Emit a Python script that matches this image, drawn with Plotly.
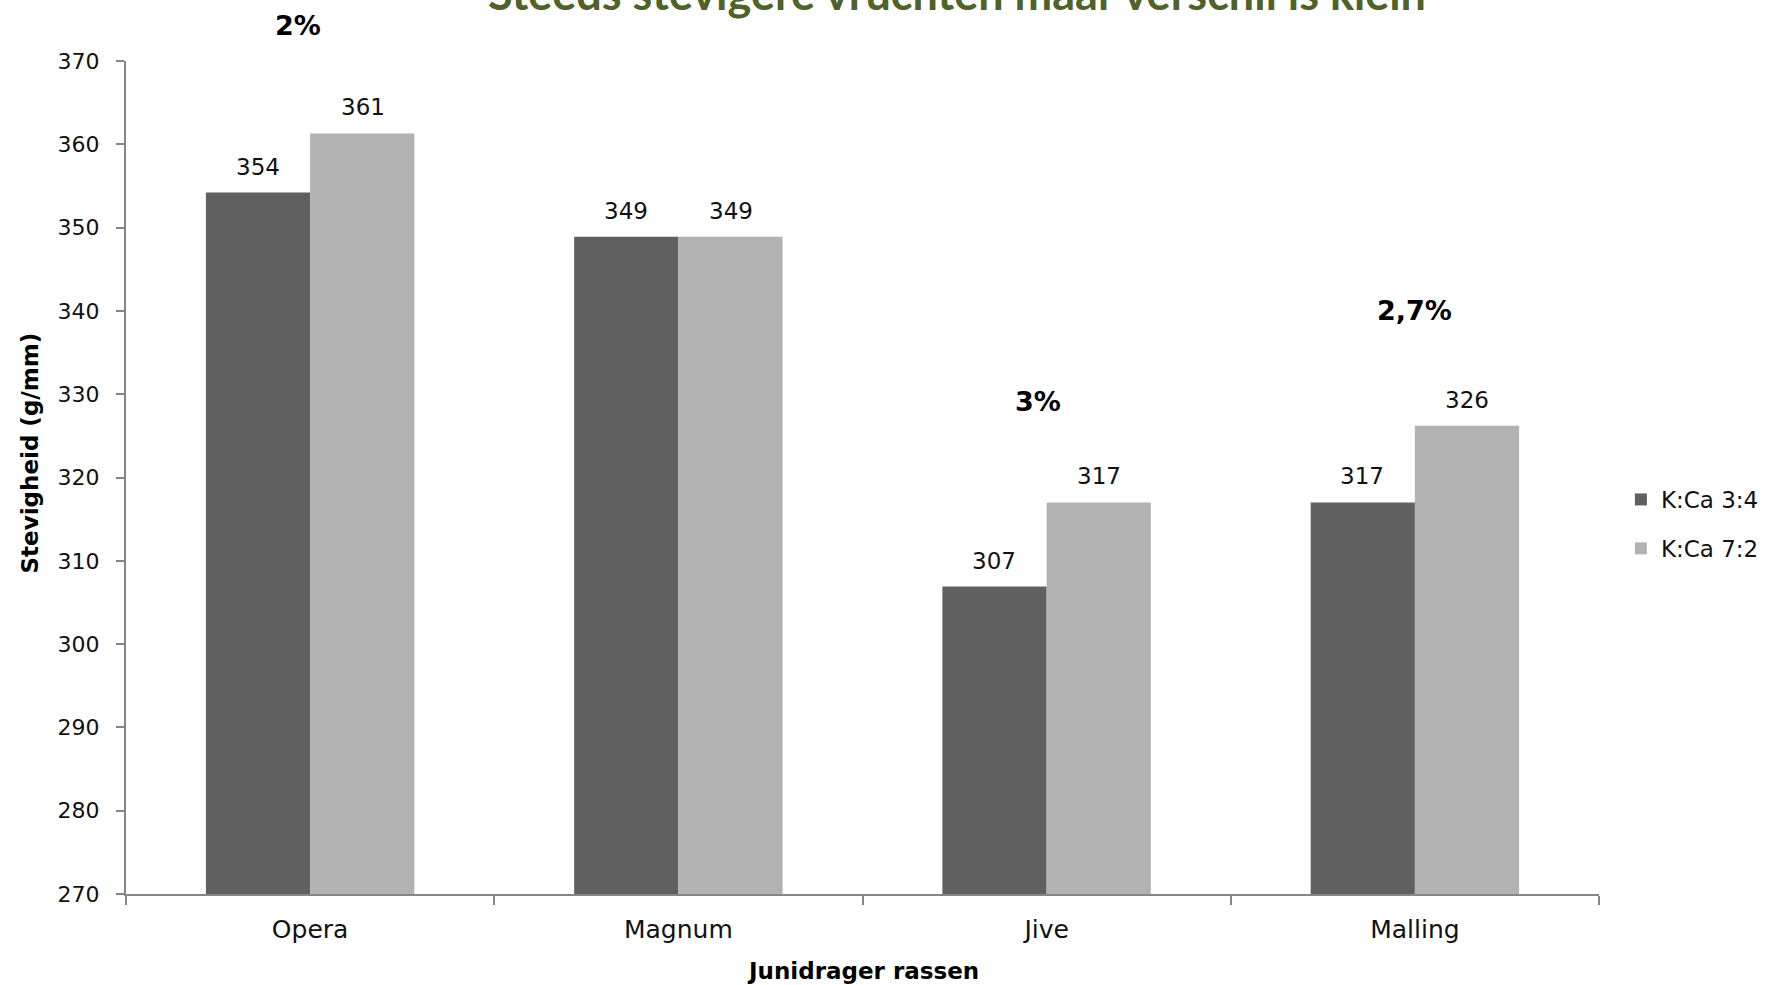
import plotly.graph_objects as go

categories = ["Opera", "Magnum", "Jive", "Malling"]
series_names = ["K:Ca 3:4", "K:Ca 7:2"]
kca_34 = [354.2, 348.9, 306.9, 317.0]
kca_72 = [361.3, 348.9, 317.0, 326.2]
pct_labels = ["2%", "", "3%", "2,7%"]
pct_label_y = [374.3, None, 329.1, 340.1]
y_ticks = [270, 280, 290, 300, 310, 320, 330, 340, 350, 360, 370]
Y_MIN, Y_MAX = 270, 370

title_text = "Steeds stevigere vruchten maar verschil is klein"
x_title = "Junidrager rassen"
y_title = "Stevigheid (g/mm)"

colors = ["#606060", "#B2B2B2"]
FONT = "DejaVu Sans"

W, H = 1776, 985
ML, MR, MT, MB = 126, 170, 61, 91
PW = W - ML - MR
PH = H - MT - MB

def px_x(p):
    return (p - ML) / PW

def px_y(p):
    return (H - MB - p) / PH

fig = go.Figure()
all_series = [kca_34, kca_72]
for name, vals, col in zip(series_names, all_series, colors):
    fig.add_trace(go.Bar(
        x=categories, y=vals, name=name, marker=dict(color=col, line=dict(width=0)),
        legendgroup=name, hoverinfo="x+y",
    ))

annotations = []
# value labels above each bar
bar_px = 105
for j, vals in enumerate(all_series):
    for i, v in enumerate(vals):
        annotations.append(dict(
            x=categories[i], y=v, xref="x", yref="y", text=f"{v:.0f}",
            showarrow=False, yanchor="bottom", xanchor="center",
            xshift=(j - 0.5) * bar_px, yshift=11,
            font=dict(family=FONT, size=23, color="#111111"),
        ))

pct_xshift = [-12, 0, -9, 0]
for i, lab in enumerate(pct_labels):
    if not lab:
        continue
    annotations.append(dict(
        x=categories[i], y=(pct_label_y[i] - Y_MIN) / (Y_MAX - Y_MIN),
        xref="x", yref="paper", text=f"<b>{lab}</b>",
        showarrow=False, yanchor="middle", xanchor="center", xshift=pct_xshift[i],
        font=dict(family=FONT, size=27, color="#000000"),
    ))

# chart title (partially cut at the top, as in the reference)
annotations.append(dict(
    x=px_x(961), y=px_y(22), xref="paper", yref="paper", text=f"<b>{title_text}</b>",
    showarrow=False, yanchor="bottom", xanchor="center",
    font=dict(family="Lato", size=45, color="#4F6228"),
))
# axis titles
annotations.append(dict(
    x=0.5, y=px_y(971), xref="paper", yref="paper", text=f"<b>{x_title}</b>",
    showarrow=False, yanchor="middle", xanchor="center",
    font=dict(family=FONT, size=23, color="#000000"),
))
annotations.append(dict(
    x=px_x(30), y=px_y(453), xref="paper", yref="paper", text=f"<b>{y_title}</b>",
    showarrow=False, yanchor="middle", xanchor="center", textangle=-90,
    font=dict(family=FONT, size=23, color="#000000"),
))

fig.update_layout(
    width=W, height=H,
    margin=dict(l=ML, r=MR, t=MT, b=MB, pad=0),
    paper_bgcolor="white", plot_bgcolor="white",
    barmode="group", bargap=0.434, bargroupgap=0,
    font=dict(family=FONT, size=22, color="#111111"),
    showlegend=True,
    legend=dict(
        x=px_x(1628), y=px_y(524), xanchor="left", yanchor="middle",
        font=dict(family=FONT, size=23, color="#111111"),
        traceorder="grouped", tracegroupgap=16, bgcolor="rgba(0,0,0,0)",
        itemwidth=30,
    ),
    annotations=annotations,
)
fig.update_xaxes(
    type="category", showgrid=False, showline=True, linecolor="#868686", linewidth=2,
    ticks="outside", tickson="boundaries", ticklen=9, tickcolor="#868686", tickwidth=1.5,
    tickfont=dict(family=FONT, size=25, color="#111111"), ticklabelstandoff=12,
    zeroline=False,
)
fig.update_yaxes(
    range=[Y_MIN, Y_MAX], tickvals=y_ticks, showgrid=False, showline=True,
    linecolor="#868686", linewidth=2, ticks="outside", ticklen=8, tickcolor="#868686",
    tickwidth=1.5, tickfont=dict(family=FONT, size=22, color="#111111"),
    ticklabelstandoff=12, zeroline=False,
)

fig.write_html("out.html", config={"displayModeBar": False},
               post_script="document.body.style.margin='0';")
